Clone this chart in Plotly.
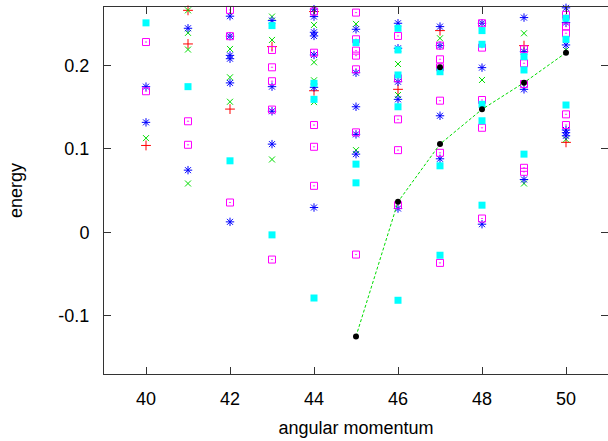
import plotly.graph_objects as go

# ---- data ----
red_x = [40, 41, 41, 42, 43, 44, 44, 46, 47, 49, 50]
red_y = [0.104, 0.266, 0.2257, 0.1476, 0.2225, 0.2645, 0.1696, 0.1713, 0.2417, 0.2237, 0.1077]

green_x = [40, 41, 41, 41, 41, 42, 42, 42, 43, 43, 43, 44, 44, 44, 44,
           45, 45, 46, 46, 47, 48, 49, 49, 50, 50]
green_y = [0.1128, 0.266, 0.239, 0.219, 0.0584, 0.2197, 0.1857, 0.1564,
           0.2585, 0.2305, 0.0872, 0.2485, 0.2037, 0.1821, 0.156,
           0.2497, 0.0984, 0.2017, 0.1645, 0.2325, 0.1825, 0.2385, 0.0584,
           0.2185, 0.1113]

blue_x = [40, 40, 41, 41, 42, 42, 42, 42, 42, 42, 43, 43, 43, 43,
          44, 44, 44, 44, 44, 44, 44, 45, 45, 45, 45, 45,
          46, 46, 46, 46, 46, 47, 47, 47, 47, 48, 48, 48,
          49, 49, 49, 49, 50, 50, 50, 50, 50, 50]
blue_y = [0.1745, 0.1317, 0.2445, 0.0744, 0.259, 0.235, 0.212, 0.208, 0.179, 0.0124,
          0.2537, 0.1745, 0.145, 0.1056,
          0.2674, 0.2585, 0.2397, 0.2353, 0.2125, 0.1737, 0.0296,
          0.2433, 0.1912, 0.1504, 0.1173, 0.0936,
          0.2505, 0.2205, 0.1804, 0.1593, 0.0284,
          0.2465, 0.2237, 0.1396, 0.088,
          0.2505, 0.1973, 0.0096,
          0.2573, 0.2165, 0.1713, 0.0632,
          0.269, 0.2513, 0.2245, 0.1225, 0.1193, 0.1156]

magenta_x = [40, 40, 41, 41, 42, 42, 42, 43, 43, 43, 43, 43,
             44, 44, 44, 44, 44, 45, 45, 45, 45, 45, 45, 45,
             46, 46, 46, 46, 46, 47, 47, 47, 47, 47, 47,
             48, 48, 48, 48, 48, 49, 49, 49, 49, 49, 50, 50, 50, 50, 50]
magenta_y = [0.228, 0.169, 0.133, 0.1048, 0.2665, 0.235, 0.0356,
             0.2185, 0.1977, 0.181, 0.147, -0.0328,
             0.2645, 0.2152, 0.1285, 0.1024, 0.0556,
             0.2633, 0.2313, 0.2177, 0.2117, 0.1953, 0.1197, -0.0268,
             0.2353, 0.1845, 0.1353, 0.0984, 0.0324,
             0.2237, 0.2073, 0.1977, 0.1577, 0.0952, -0.0368,
             0.2505, 0.2213, 0.1585, 0.1252, 0.0164,
             0.2193, 0.2025, 0.1777, 0.0772, 0.0724,
             0.2605, 0.2465, 0.2385, 0.1413, 0.1285]

cyan_x = [40, 41, 42, 43, 43, 44, 44, 44, 45, 45, 45,
          46, 46, 46, 46, 46, 47, 47, 47, 48, 48, 48, 48, 48,
          49, 49, 49, 50, 50, 50]
cyan_y = [0.251, 0.1745, 0.0856, 0.2477, -0.0032, 0.1785, 0.1593, -0.0789,
          0.2273, 0.0816, 0.0592,
          0.2445, 0.2185, 0.1885, 0.1504, -0.0816,
          0.1924, 0.0796, -0.0276,
          0.2417, 0.2253, 0.1533, 0.1336, 0.0324,
          0.2105, 0.1945, 0.0936,
          0.2565, 0.2313, 0.1525]

line_x = [45, 46, 47, 48, 49, 50]
line_y = [-0.1249, 0.0364, 0.1056, 0.1473, 0.1793, 0.2152]

black_x = [45, 46, 47, 47, 48, 49, 50]
black_y = [-0.1249, 0.0364, 0.1977, 0.1056, 0.1473, 0.1793, 0.2152]

x_ticks = [40, 42, 44, 46, 48, 50]
y_ticks = [-0.1, 0, 0.1, 0.2]
y_tick_text = ["-0.1", "0", "0.1", "0.2"]

FONT = "Liberation Sans, Arial, sans-serif"
AX = "#333333"

fig = go.Figure()

def pts(x, y, symbol, color, size, lw=1.0, filled=False):
    if filled:
        marker = dict(symbol=symbol, size=size, color=color, line=dict(width=0))
    else:
        marker = dict(symbol=symbol, size=size, color=color,
                      line=dict(color=color, width=lw))
    fig.add_trace(go.Scatter(x=x, y=y, mode="markers", marker=marker,
                             cliponaxis=False, showlegend=False))

pts(red_x, red_y, "cross-thin-open", "#ff0000", 7)
pts(green_x, green_y, "x-thin-open", "#00dd00", 6)
pts(blue_x, blue_y, "asterisk-open", "#0000ff", 7)
pts(magenta_x, magenta_y, "square-open-dot", "#ff00ff", 7)
pts(cyan_x, cyan_y, "square", "#00ffff", 7, filled=True)

fig.add_trace(go.Scatter(x=line_x, y=line_y, mode="lines",
                         line=dict(color="#00dd00", width=1, dash="3px,2px"),
                         showlegend=False))
pts(black_x, black_y, "circle", "#000000", 6, filled=True)

axis_common = dict(
    showline=True, linecolor=AX, linewidth=1, mirror="ticks",
    ticks="inside", ticklen=7, tickcolor=AX, tickwidth=1,
    showgrid=False, zeroline=False,
    tickfont=dict(family=FONT, size=18, color="#000000"),
)

fig.update_layout(
    width=608, height=441,
    margin=dict(l=104, r=0, t=7, b=67),
    paper_bgcolor="white", plot_bgcolor="white",
    xaxis=dict(range=[39, 51], tickvals=x_ticks, ticklabelstandoff=8,
               title=dict(text="angular momentum",
                          font=dict(family=FONT, size=18, color="#000000"),
                          standoff=13),
               **axis_common),
    yaxis=dict(range=[-0.17, 0.27], tickvals=y_ticks, ticktext=y_tick_text,
               ticklabelstandoff=10,
               title=dict(text="energy",
                          font=dict(family=FONT, size=18, color="#000000"),
                          standoff=31),
               **axis_common),
)

fig.write_html("out.html")
